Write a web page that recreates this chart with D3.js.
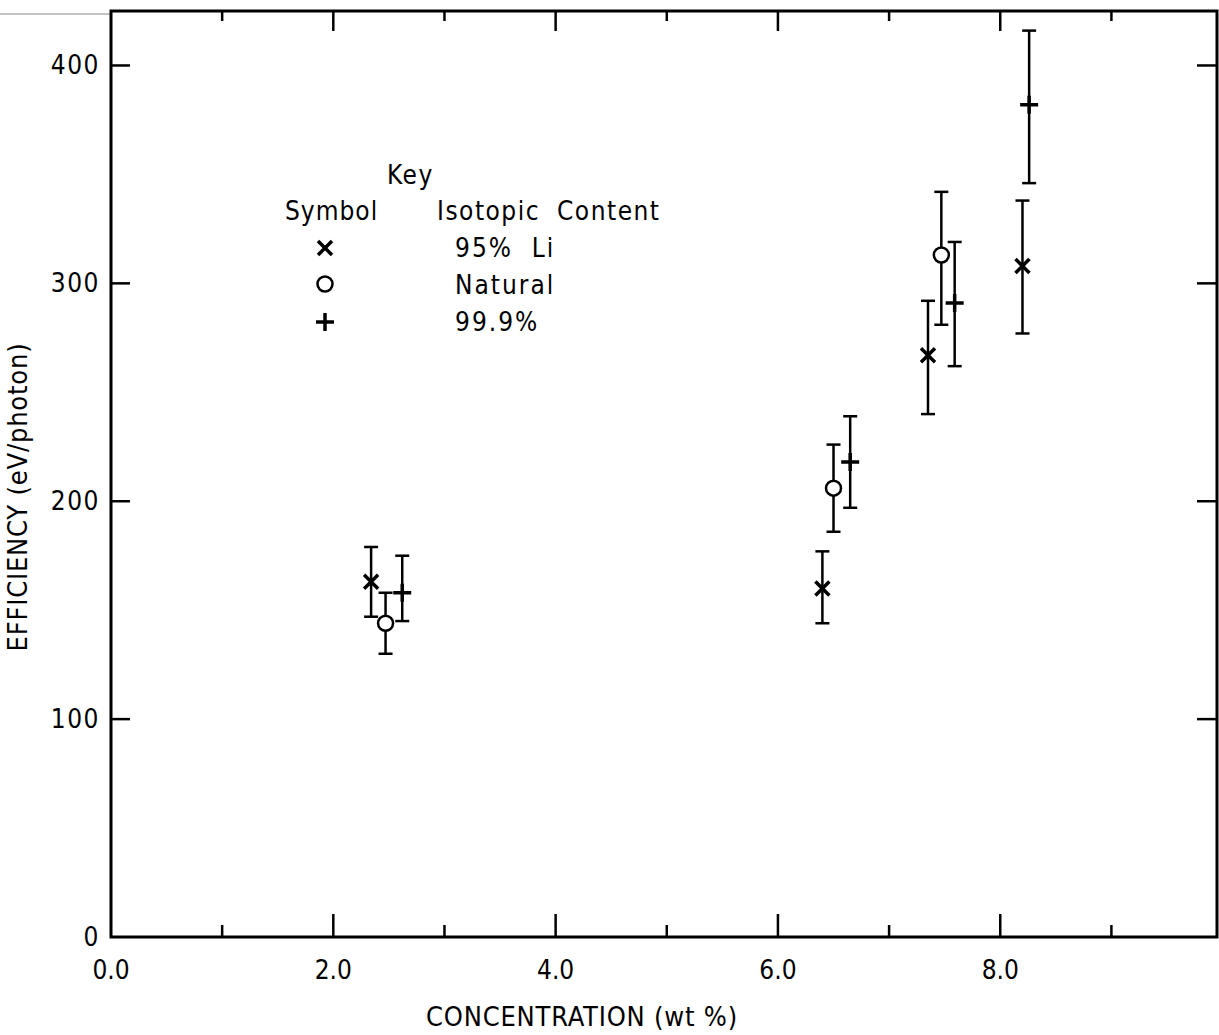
<!DOCTYPE html>
<html>
<head>
<meta charset="utf-8">
<script src="https://d3js.org/d3.v7.min.js"></script>
<style>
  body { margin: 0; background: #fff; }
  svg text { font-family: "DejaVu Sans Condensed", "DejaVu Sans", sans-serif; font-stretch: condensed; fill: #000; }
</style>
</head>
<body>
<div id="chart"></div>
<script>
// data
const conc95  = [2.34, 6.40, 7.35, 8.20];
const eff95   = [163, 160, 267, 308];
const lo95    = [147, 144, 240, 277];
const hi95    = [179, 177, 292, 338];

const concNat = [2.47, 6.50, 7.47];
const effNat  = [144, 206, 313];
const loNat   = [130, 186, 281];
const hiNat   = [158, 226, 342];

const conc999 = [2.62, 6.65, 7.59, 8.26];
const eff999  = [158, 218, 291, 382];
const lo999   = [145, 197, 262, 346];
const hi999   = [175, 239, 319, 416];

const xMajor = [0, 2, 4, 6, 8];
const xMinor = [1, 3, 5, 7, 9];
const yTicks = [0, 100, 200, 300, 400];

const keyRows = [["x", "95%  Li"], ["o", "Natural"], ["+", "99.9%"]];

const W = 1219, H = 1035;
const svg = d3.select("#chart").append("svg")
  .attr("width", W).attr("height", H);

const x = d3.scaleLinear().domain([0, 9.95]).range([111, 1217]);
const y = d3.scaleLinear().domain([0, 425]).range([937, 11]);

// stray scan line at top left
svg.append("line")
  .attr("x1", 0).attr("x2", x(0)).attr("y1", 14).attr("y2", 14)
  .attr("stroke", "#888").attr("stroke-width", 1);

// frame
svg.append("rect")
  .attr("x", x(0)).attr("y", y(425))
  .attr("width", x(9.95) - x(0)).attr("height", y(0) - y(425))
  .attr("fill", "none").attr("stroke", "#000").attr("stroke-width", 3);

// tick marks, all inward
const tk = svg.append("g").attr("stroke", "#000").attr("stroke-width", 2.5);
xMajor.concat(xMinor).forEach(v => {
  if (v === 0) return;
  const len = xMajor.includes(v) ? 23 : 12;
  tk.append("line").attr("x1", x(v)).attr("x2", x(v))
    .attr("y1", y(0)).attr("y2", y(0) - len);
  tk.append("line").attr("x1", x(v)).attr("x2", x(v))
    .attr("y1", y(425)).attr("y2", y(425) + (xMajor.includes(v) ? 20 : 10));
});
yTicks.forEach(v => {
  if (v === 0) return;
  tk.append("line").attr("x1", x(0)).attr("x2", x(0) + 19)
    .attr("y1", y(v)).attr("y2", y(v));
  tk.append("line").attr("x1", x(9.95)).attr("x2", x(9.95) - 20)
    .attr("y1", y(v)).attr("y2", y(v));
});

// tick labels
svg.selectAll(".xl").data(xMajor).enter().append("text")
  .attr("x", d => x(d)).attr("y", 979)
  .attr("text-anchor", "middle").attr("font-size", 26)
  .text(d => d.toFixed(1));
svg.selectAll(".yl").data(yTicks).enter().append("text")
  .attr("x", 100).attr("y", d => y(d) + 9)
  .attr("text-anchor", "end").attr("font-size", 26)
  .attr("letter-spacing", 1.5)
  .text(d => d);

// axis titles
svg.append("text")
  .attr("x", 582).attr("y", 1026).attr("text-anchor", "middle")
  .attr("font-size", 27).attr("letter-spacing", 0.8)
  .text("CONCENTRATION (wt %)");
svg.append("text")
  .attr("transform", "translate(27,497) rotate(-90)")
  .attr("text-anchor", "middle").attr("font-size", 27)
  .attr("letter-spacing", 0.8)
  .text("EFFICIENCY (eV/photon)");

// markers
function marker(g, kind, cx, cy) {
  if (kind === "x") {
    g.append("path").attr("d", `M${cx-7},${cy-7}L${cx+7},${cy+7}M${cx-7},${cy+7}L${cx+7},${cy-7}`)
      .attr("stroke", "#000").attr("stroke-width", 3.5);
  } else if (kind === "o") {
    g.append("circle").attr("cx", cx).attr("cy", cy).attr("r", 7.5)
      .attr("fill", "#fff").attr("stroke", "#000").attr("stroke-width", 2.5);
  } else {
    g.append("path").attr("d", `M${cx-9},${cy}L${cx+9},${cy}M${cx},${cy-9}L${cx},${cy+9}`)
      .attr("stroke", "#000").attr("stroke-width", 3.5);
  }
}

function series(kind, cs, es, los, his) {
  const g = svg.append("g");
  cs.forEach((c, i) => {
    const px = x(c);
    g.append("line").attr("x1", px).attr("x2", px)
      .attr("y1", y(los[i])).attr("y2", y(his[i]))
      .attr("stroke", "#000").attr("stroke-width", 2.5);
    [los[i], his[i]].forEach(v => {
      g.append("line").attr("x1", px - 7).attr("x2", px + 7)
        .attr("y1", y(v)).attr("y2", y(v))
        .attr("stroke", "#000").attr("stroke-width", 2.5);
    });
    marker(g, kind, px, y(es[i]));
  });
}
series("x", conc95, eff95, lo95, hi95);
series("o", concNat, effNat, loNat, hiNat);
series("+", conc999, eff999, lo999, hi999);

// key
const key = svg.append("g");
key.append("text").attr("x", 387).attr("y", 184).attr("font-size", 26)
  .attr("letter-spacing", 1.5).text("Key");
key.append("text").attr("x", 285).attr("y", 220).attr("font-size", 26)
  .attr("letter-spacing", 1).text("Symbol");
key.append("text").attr("x", 437).attr("y", 220).attr("font-size", 26)
  .attr("letter-spacing", 1.5).attr("word-spacing", 8).text("Isotopic Content");
keyRows.forEach((r, i) => {
  const ky = 248 + i * 37;
  marker(key, r[0], 325, ky - (r[0] === "o" ? 1 : 0));
  key.append("text").attr("x", 455).attr("y", ky + 9).attr("font-size", 26)
    .attr("letter-spacing", 2).style("white-space", "pre")
    .text(r[1]);
});
</script>
</body>
</html>
